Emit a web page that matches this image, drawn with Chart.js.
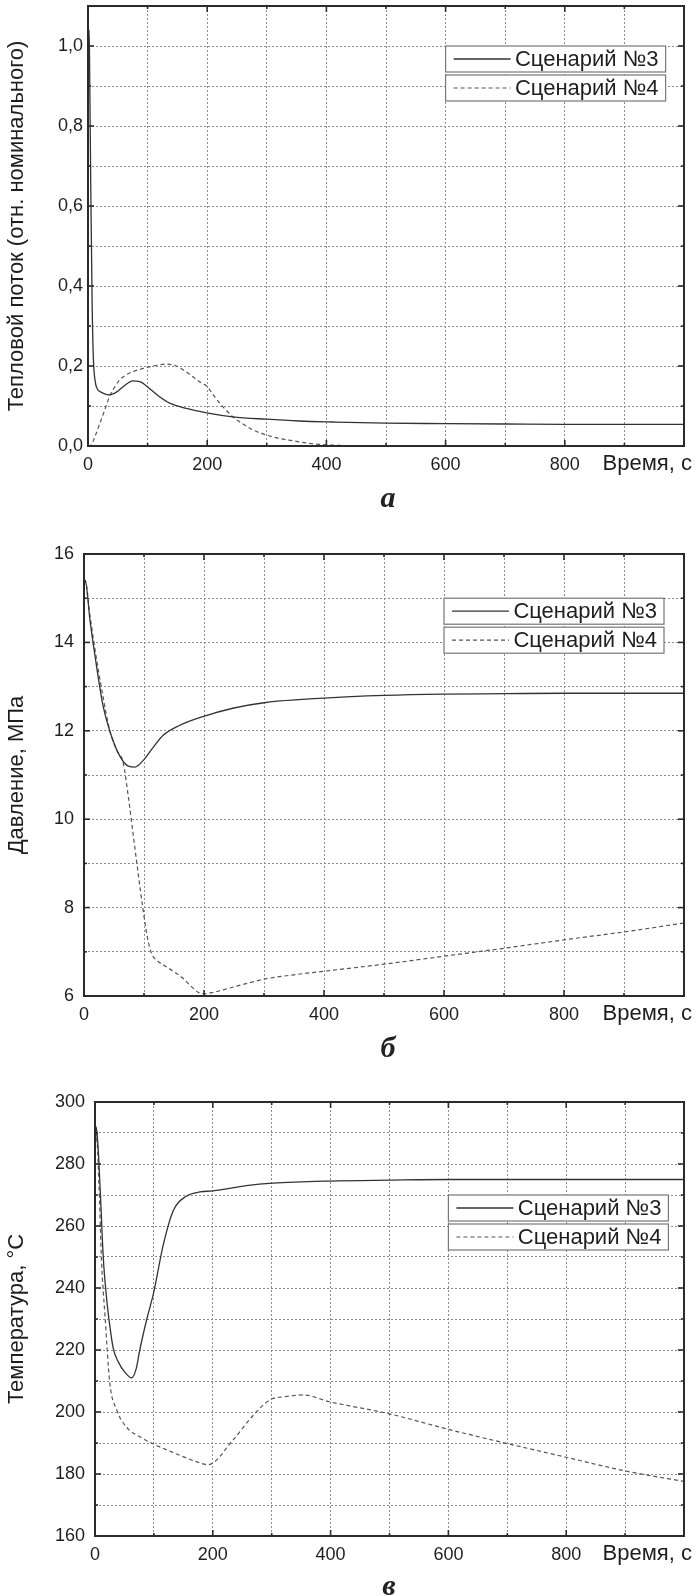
<!DOCTYPE html>
<html>
<head>
<meta charset="utf-8">
<script src="https://cdn.jsdelivr.net/npm/chart.js@4.4.1/dist/chart.umd.min.js"></script>
<style>
  body { margin: 0; background: #fff; width: 695px; height: 1596px; position: relative; overflow: hidden; }
  canvas { position: absolute; left: 0; }
  .cap { position: absolute; font: bold italic 30px "Liberation Serif", serif; color: #222; transform: translate(-50%, -50%); }
</style>
</head>
<body>
<canvas id="chartA" width="695" height="505" style="top:-20px"></canvas>
<canvas id="chartB" width="695" height="515" style="top:520px"></canvas>
<canvas id="chartC" width="695" height="500" style="top:1070px"></canvas>
<div class="cap" style="left:388px;top:497px">а</div>
<div class="cap" style="left:388px;top:1047px">б</div>
<div class="cap" style="left:389px;top:1585px">в</div>
<script>
const seriesNames = ['Сценарий №3', 'Сценарий №4'];
const timeLabel = 'Время, с';
const timeMajor = [0, 200, 400, 600, 800];

// а) тепловой поток
const heatT3 = [0, 2, 3, 5, 7, 9, 12, 16, 20, 27, 34, 45, 59, 75, 87, 103, 120, 137, 165, 199, 243, 299, 355, 411, 500, 600, 700, 800, 900, 1000];
const heatQ3 = [1.0, 1.04, 0.9, 0.6, 0.35, 0.22, 0.162, 0.142, 0.136, 0.131, 0.128, 0.132, 0.148, 0.163, 0.161, 0.144, 0.123, 0.107, 0.094, 0.083, 0.073, 0.067, 0.0625, 0.06, 0.057, 0.056, 0.055, 0.054, 0.054, 0.054];
const heatT4 = [0, 5, 12, 20, 28, 36, 45, 53, 63, 75, 90, 103, 117, 131, 148, 162, 176, 190, 199, 210, 221, 232, 243, 260, 277, 299, 320, 344, 370, 389, 411, 440, 470, 1000];
const heatQ4 = [0, 0.002, 0.025, 0.057, 0.09, 0.123, 0.148, 0.165, 0.177, 0.186, 0.193, 0.198, 0.202, 0.205, 0.2, 0.188, 0.173, 0.158, 0.15, 0.128, 0.107, 0.089, 0.073, 0.055, 0.04, 0.0275, 0.019, 0.013, 0.007, 0.004, 0.002, 0.001, 0, 0];
const heatMajor = [0, 0.2, 0.4, 0.6, 0.8, 1.0];

// б) давление
const presT3 = [0, 2, 10, 21, 32, 46, 60, 74, 85, 98, 115, 132, 159, 198, 248, 303, 400, 500, 600, 700, 800, 900, 1000];
const presP3 = [15.2, 15.4, 14.5, 13.45, 12.55, 11.87, 11.42, 11.2, 11.18, 11.32, 11.62, 11.9, 12.12, 12.32, 12.51, 12.64, 12.74, 12.8, 12.83, 12.84, 12.85, 12.85, 12.85];
const presT4 = [0, 2, 10, 20, 30, 43, 55, 65, 74, 82, 90, 98, 106, 113, 122, 135, 150, 165, 180, 192, 200, 215, 240, 270, 300, 350, 400, 500, 600, 700, 800, 900, 1000];
const presP4 = [15.2, 15.4, 14.6, 13.7, 12.9, 12.0, 11.55, 11.3, 10.5, 9.65, 8.8, 8.0, 7.3, 6.95, 6.8, 6.68, 6.55, 6.4, 6.2, 6.07, 6.05, 6.08, 6.17, 6.28, 6.38, 6.48, 6.56, 6.72, 6.9, 7.08, 7.27, 7.45, 7.65];
const presMajor = [6, 8, 10, 12, 14, 16];

// в) температура
const tempT3 = [0, 2, 5, 9, 14, 19, 25, 31, 40, 50, 62, 70, 76, 88, 99, 116, 133, 155, 178, 200, 257, 302, 398, 500, 600, 800, 1000];
const tempC3 = [282, 292, 286, 271, 250, 238, 228, 220.5, 216, 213, 211, 214, 220, 230, 238, 254, 265, 269.6, 271, 271.3, 273, 273.8, 274.5, 274.8, 275, 275, 275];
const tempT4 = [0, 2, 7, 11, 17, 25, 37, 54, 76, 99, 133, 172, 192, 234, 268, 297, 325, 353, 398, 432, 500, 600, 698, 800, 900, 1000];
const tempC4 = [280, 291, 272, 249, 231, 209.6, 200.6, 195, 192, 189.7, 186.9, 184, 183, 190.9, 198.8, 203.9, 205, 205.5, 203.3, 202, 199.4, 194.4, 189.9, 185.4, 181, 177.6];
const tempMajor = [160, 180, 200, 220, 240, 260, 280, 300];

const TEXT = '#1e1e1e';
const FONT = '"Liberation Sans", Arial, sans-serif';

function pts(xs, ys) {
  return xs.map((x, i) => ({ x: x, y: ys[i] }));
}

function isMajor(list, v) {
  return list.some(m => Math.abs(m - v) < 1e-6);
}

const framePlugin = {
  id: 'frame',
  afterDraw(chart, args, o) {
    const ctx = chart.ctx, a = chart.chartArea;
    const x = chart.scales.x, y = chart.scales.y;
    ctx.save();
    ctx.strokeStyle = '#2b2b2b';
    ctx.lineWidth = 1.6;
    const seg = (x1, y1, x2, y2) => { ctx.beginPath(); ctx.moveTo(x1, y1); ctx.lineTo(x2, y2); ctx.stroke(); };
    // ticks inside the frame, all four sides
    x.ticks.forEach(t => {
      const px = x.getPixelForValue(t.value);
      const len = isMajor(timeMajor, t.value) ? 6 : 3;
      seg(px, a.bottom, px, a.bottom - len);
      seg(px, a.top, px, a.top + len);
    });
    y.ticks.forEach(t => {
      const py = y.getPixelForValue(t.value);
      const len = isMajor(o.yMajor, t.value) ? 6 : 3;
      seg(a.left, py, a.left + len, py);
      seg(a.right, py, a.right - len, py);
    });
    ctx.lineWidth = 2;
    ctx.strokeRect(a.left, a.top, a.right - a.left, a.bottom - a.top);

    // axis caption at the right end
    ctx.fillStyle = TEXT;
    ctx.font = '22px ' + FONT;
    ctx.textAlign = 'right';
    ctx.textBaseline = 'middle';
    ctx.fillText(timeLabel, 692, a.bottom + 18);

    // legend boxes
    const lx = x.getPixelForValue(o.legendX);
    const ly = y.getPixelForValue(o.legendY);
    chart.data.datasets.forEach((ds, i) => {
      const top = ly + i * 29;
      ctx.fillStyle = '#fff';
      ctx.fillRect(lx, top, 220, 26);
      ctx.strokeStyle = '#777';
      ctx.lineWidth = 1.2;
      ctx.setLineDash([]);
      ctx.strokeRect(lx, top, 220, 26);
      ctx.strokeStyle = ds.borderColor;
      ctx.lineWidth = ds.borderWidth;
      ctx.setLineDash(ds.borderDash || []);
      seg(lx + 8, top + 13, lx + 65, top + 13);
      ctx.setLineDash([]);
      ctx.fillStyle = TEXT;
      ctx.font = '22px ' + FONT;
      ctx.textAlign = 'right';
      ctx.textBaseline = 'middle';
      ctx.fillText(ds.label, lx + 213, top + 14);
    });
    ctx.restore();
  }
};

function makeChart(id, c) {
  return new Chart(document.getElementById(id), {
    type: 'line',
    data: {
      datasets: [{
        label: seriesNames[0],
        data: pts(c.t3, c.v3),
        borderColor: '#333',
        borderWidth: 1.3,
        pointRadius: 0,
        cubicInterpolationMode: 'monotone'
      }, {
        label: seriesNames[1],
        data: pts(c.t4, c.v4),
        borderColor: '#555',
        borderWidth: 1.2,
        borderDash: [4, 3],
        pointRadius: 0,
        cubicInterpolationMode: 'monotone'
      }]
    },
    options: {
      responsive: false,
      animation: false,
      devicePixelRatio: 1,
      layout: { padding: { top: c.top, right: 11, left: 0, bottom: 0 } },
      plugins: {
        legend: { display: false },
        tooltip: { enabled: false },
        frame: { yMajor: c.yMajor, legendX: 600, legendY: c.legendY }
      },
      scales: {
        x: {
          type: 'linear',
          min: 0,
          max: 1000,
          afterFit: s => { s.height = c.height - c.bottom; },
          border: { display: false, dash: [2, 2] },
          grid: { color: '#8c8c8c', lineWidth: 1, drawTicks: false },
          ticks: {
            stepSize: 100,
            autoSkip: false,
            maxRotation: 0,
            padding: 8,
            color: TEXT,
            font: { size: 18, family: FONT },
            callback: v => isMajor(timeMajor, v) ? String(v) : ''
          }
        },
        y: {
          min: c.yMin,
          max: c.yMax,
          afterFit: s => { s.width = c.left; },
          border: { display: false, dash: [2, 2] },
          grid: { color: '#8c8c8c', lineWidth: 1, drawTicks: false },
          title: {
            display: true,
            text: c.title,
            color: TEXT,
            font: { size: 22, family: FONT },
            padding: { top: 4, bottom: 0 }
          },
          ticks: {
            stepSize: c.yStep,
            autoSkip: false,
            padding: c.tickPad,
            color: TEXT,
            font: { size: 18, family: FONT },
            callback: v => isMajor(c.yMajor, v) ? c.fmt(v) : ''
          }
        }
      }
    },
    plugins: [framePlugin]
  });
}

makeChart('chartA', {
  t3: heatT3, v3: heatQ3, t4: heatT4, v4: heatQ4,
  yMin: 0, yMax: 1.1, yStep: 0.1, yMajor: heatMajor,
  fmt: v => v.toFixed(1).replace('.', ','),
  title: 'Тепловой поток (отн. номинального)',
  top: 26, bottom: 466, left: 88, height: 505, tickPad: 5, legendY: 1.0
});

makeChart('chartB', {
  t3: presT3, v3: presP3, t4: presT4, v4: presP4,
  yMin: 6, yMax: 16, yStep: 1, yMajor: presMajor,
  fmt: v => String(v),
  title: 'Давление, МПа',
  top: 34, bottom: 476, left: 84, height: 515, tickPad: 10, legendY: 15
});

makeChart('chartC', {
  t3: tempT3, v3: tempC3, t4: tempT4, v4: tempC4,
  yMin: 160, yMax: 300, yStep: 10, yMajor: tempMajor,
  fmt: v => String(v),
  title: 'Температура, °C',
  top: 32, bottom: 466, left: 95, height: 500, tickPad: 10, legendY: 270
});
</script>
</body>
</html>
